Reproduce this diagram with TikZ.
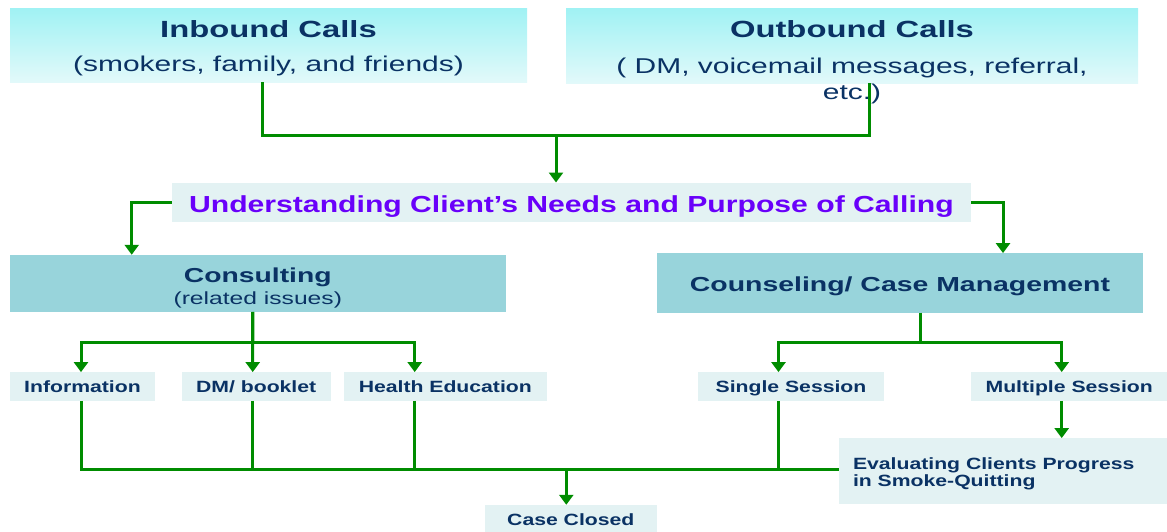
\documentclass[tikz,border=0pt]{standalone}
\usepackage{fontspec}
\setmainfont{Liberation Sans}[FakeStretch=1.4]
\newfontfamily\labelsans{Liberation Sans}[FakeStretch=1.3]
\usepackage{tikz}
\usetikzlibrary{arrows.meta}
\definecolor{navy}{RGB}{10,50,100}
\definecolor{callpurple}{RGB}{105,0,250}
\definecolor{linkgreen}{RGB}{0,140,0}
\definecolor{paleteal}{RGB}{227,242,243}
\definecolor{midteal}{RGB}{152,212,219}
\definecolor{skytop}{RGB}{160,242,244}
\definecolor{skybot}{RGB}{226,249,250}
\newcommand\calltitle{\fontsize{23.4}{28}\selectfont\bfseries}

\begin{document}
\begin{tikzpicture}[x=1pt, y=-1pt,
  every node/.style = {inner sep=0pt, text=navy, align=center},
  topbox/.style = {top color=skytop, bottom color=skybot},
  calltext/.style = {font=\fontsize{21.4}{26}\selectfont, anchor=north},
  headbox/.style = {fill=midteal},
  palebox/.style = {fill=paleteal},
  small/.style = {palebox, minimum height=28.4pt,
    font=\labelsans\fontsize{16.3}{18}\selectfont\bfseries,
    text height=11.7pt, text depth=0pt},
  link/.style = {draw=linkgreen, line width=3pt},
  arrowlink/.style = {link, -{Triangle[width=14pt,length=10pt]}}]
  \useasboundingbox (0,0) rectangle (1167,531);

  % calls
  \node[topbox, minimum width=517pt, minimum height=74pt] (inbound) at (268.5,45) {};
  \node[calltext] (intext) at ([yshift=-13pt]inbound.north)
    {{\calltitle Inbound Calls}\\[8pt](smokers, family, and friends)};
  \node[topbox, minimum width=572pt, minimum height=75pt] (outbound) at (852,45.5) {};
  \node[calltext] (outtext) at ([yshift=-13pt]outbound.north)
    {{\calltitle Outbound Calls}\\[10pt]( DM, voicemail messages, referral,\\etc.)};

  \node[palebox, minimum width=799pt, minimum height=39pt, text=callpurple,
    font=\labelsans\fontsize{23.2}{27}\selectfont\bfseries, text height=20pt, text depth=0pt]
    (understand) at (571.4,202.2) {Understanding Client’s Needs and Purpose of Calling};

  \node[headbox, minimum width=495.7pt, minimum height=56.7pt] (consult) at (257.8,283.3) {};
  \node[font=\fontsize{17.6}{21}\selectfont, anchor=north] (consulttext)
    at ([yshift=-12.7pt]consult.north)
    {{\fontsize{20.2}{24}\selectfont\bfseries Consulting}\\[1pt](related issues)};
  \node[headbox, minimum width=486pt, minimum height=59.4pt,
    font=\fontsize{20.3}{24}\selectfont\bfseries, text height=17pt, text depth=0pt]
    (counsel) at (900,283) {Counseling/ Case Management};

  \node[small, minimum width=145pt] (info) at (82.5,386.5) {Information};
  \node[small, minimum width=149pt] (booklet) at (256.2,386.5) {DM/ booklet};
  \node[small, minimum width=202.7pt] (health) at (445.3,386.5) {Health Education};
  \node[small, minimum width=186pt] (single) at (791,386.5) {Single Session};
  \node[small, minimum width=195.7pt] (multi) at (1069.2,386.5) {Multiple Session};
  \node[palebox, minimum width=328pt, minimum height=66pt] (evaluate) at (1003,471.3) {};
  \node[anchor=north west, align=left, font=\labelsans\fontsize{16.3}{17.7}\selectfont\bfseries]
    (evaltext) at ([xshift=14pt,yshift=-19pt]evaluate.north west)
    {Evaluating Clients Progress\\in Smoke-Quitting};
  \node[small, minimum width=171.7pt] (closed) at (570.8,519.2) {Case Closed};

  % connectors
  \coordinate (calls) at (556,135);
  \draw[link] ([xshift=-5.8pt]inbound.south) |- (calls) -| ([xshift=17.5pt]outbound.south);
  \draw[arrowlink] (calls) -- (calls |- understand.north);
  \draw[arrowlink] (understand.west) -| ([xshift=-126.1pt]consult.north);
  \draw[arrowlink] (understand.east) -| ([xshift=103pt]counsel.north);

  \draw[arrowlink] ([xshift=-5pt]consult.south) -- ++(0,31) -| ([xshift=-1.5pt]info.north);
  \draw[arrowlink] ([xshift=-5pt]consult.south) -- ([xshift=-3.5pt]booklet.north);
  \draw[arrowlink] ([xshift=-5pt]consult.south) -- ++(0,31) -| ([xshift=-30.6pt]health.north);
  \draw[arrowlink] ([xshift=20.3pt]counsel.south) -- ++(0,30) -| ([xshift=-12.5pt]single.north);
  \draw[arrowlink] ([xshift=20.3pt]counsel.south) -- ++(0,30) -| ([xshift=-7.5pt]multi.north);
  \draw[arrowlink] ([xshift=-7.5pt]multi.south) -- ([xshift=-7.5pt]multi.south |- evaluate.north);

  % back to case closed
  \coordinate (merge) at ([yshift=2pt]evaluate.west);
  \draw[link] ([xshift=-1.5pt]info.south) |- (merge);
  \draw[link] ([xshift=-3.5pt]booklet.south) -- ([xshift=-3.5pt]booklet.south |- merge);
  \draw[link] ([xshift=-30.6pt]health.south) -- ([xshift=-30.6pt]health.south |- merge);
  \draw[link] ([xshift=-12.5pt]single.south) -- ([xshift=-12.5pt]single.south |- merge);
  \draw[arrowlink] ([xshift=-4.5pt]closed.north |- merge) -- ([xshift=-4.5pt]closed.north);
\end{tikzpicture}
\end{document}
